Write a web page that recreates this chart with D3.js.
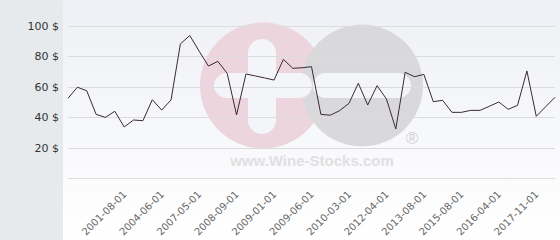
<!DOCTYPE html>
<html>
<head>
<meta charset="utf-8">
<script src="https://cdn.jsdelivr.net/npm/d3@7"></script>
<style>
  body { margin: 0; background: #fff; }
  svg { display: block; font-family: "DejaVu Sans", sans-serif; }
</style>
</head>
<body>
<div id="chart"></div>
<script>
// price per point (53 points)
var prices = [52.5, 59.8, 57.5, 42.0, 40.0, 44.0, 33.7, 38.3, 37.8, 51.6,
              44.8, 51.4, 88.2, 93.8, 83.5, 73.7, 76.8, 68.9, 41.6, 68.5,
              67.2, 65.9, 64.5, 78.1, 72.2, 72.6, 73.3, 42.0, 41.4, 44.4,
              49.2, 62.4, 48.1, 60.8, 52.1, 32.4, 69.6, 66.7, 68.2, 50.3,
              51.2, 43.3, 43.3, 44.6, 44.6, 47.3, 50.1, 45.3, 47.9, 70.5,
              40.7, 47.0, 53.2];
var tickLabels = ["2001-08-01", "2004-06-01", "2007-05-01", "2008-09-01",
                  "2009-01-01", "2009-06-01", "2010-03-01", "2012-04-01",
                  "2013-08-01", "2015-08-01", "2016-04-01", "2017-11-01"];
var tickIndex = [6, 10, 14, 18, 22, 26, 30, 34, 38, 42, 46, 50];
var yTicks = [0, 20, 40, 60, 80, 100];

var width = 560, height = 240;
var panelW = 63;
var plotLeft = 68, plotRight = 555, plotTop = 26, plotBottom = 178.3;

var svg = d3.select("#chart").append("svg")
    .attr("width", width)
    .attr("height", height);

var defs = svg.append("defs");
var grad = defs.append("linearGradient")
    .attr("id", "bg")
    .attr("x1", 0).attr("y1", 0).attr("x2", 0).attr("y2", 1);
grad.append("stop").attr("offset", "0%").attr("stop-color", "#eef0f5");
grad.append("stop").attr("offset", "100%").attr("stop-color", "#ffffff");

svg.append("rect")
    .attr("x", panelW).attr("y", 0)
    .attr("width", width - panelW).attr("height", height)
    .attr("fill", "url(#bg)");
svg.append("rect")
    .attr("x", 0).attr("y", 0)
    .attr("width", panelW).attr("height", height)
    .attr("fill", "#e6eaed");

var x = d3.scalePoint()
    .domain(d3.range(prices.length))
    .range([plotLeft, plotRight]);
var y = d3.scaleLinear()
    .domain([0, 100])
    .range([plotBottom, plotTop]);

// watermark logo
var wm = svg.append("g").attr("class", "watermark");
wm.append("circle").attr("cx", 263).attr("cy", 85.5).attr("r", 63).attr("fill", "#ecd5dd");
wm.append("circle").attr("cx", 362).attr("cy", 85.5).attr("r", 61).attr("fill", "#d9d9dc");
wm.append("rect").attr("x", 248).attr("y", 39).attr("width", 28).attr("height", 95)
    .attr("rx", 14).attr("fill", "#f4f5f9");
wm.append("rect").attr("x", 214).attr("y", 73).attr("width", 98).attr("height", 25)
    .attr("rx", 12.5).attr("fill", "#f4f5f9");
wm.append("rect").attr("x", 313).attr("y", 73).attr("width", 98).attr("height", 25)
    .attr("rx", 12.5).attr("fill", "#f4f5f9");
wm.append("text")
    .attr("x", 412).attr("y", 144)
    .attr("text-anchor", "middle")
    .attr("font-family", "Liberation Sans, Arial, sans-serif")
    .attr("font-size", 17)
    .attr("fill", "#d2d2d4")
    .text("®");
wm.append("text")
    .attr("x", 312).attr("y", 166)
    .attr("text-anchor", "middle")
    .attr("font-family", "Liberation Sans, Arial, sans-serif")
    .attr("font-weight", "bold")
    .attr("font-size", 15)
    .attr("fill", "#e0e0e2")
    .text("www.Wine-Stocks.com");

// grid
svg.append("g")
    .selectAll("line")
    .data(yTicks)
    .enter()
    .append("line")
    .attr("x1", plotLeft).attr("x2", plotRight)
    .attr("y1", function(d) { return Math.round(y(d)) + 0.5; })
    .attr("y2", function(d) { return Math.round(y(d)) + 0.5; })
    .attr("stroke", "#dcdcdc")
    .attr("stroke-width", 1);

// y labels
svg.append("g")
    .selectAll("text")
    .data(yTicks.filter(function(d) { return d > 0; }))
    .enter()
    .append("text")
    .attr("x", 59)
    .attr("y", function(d) { return y(d); })
    .attr("dy", "0.35em")
    .attr("text-anchor", "end")
    .attr("font-size", 11)
    .attr("fill", "#333")
    .text(function(d) { return d + " $"; });

// x labels
svg.append("g")
    .selectAll("text")
    .data(tickIndex)
    .enter()
    .append("text")
    .attr("transform", function(d) {
        return "translate(" + (x(d) + 3) + ",195) rotate(-45)";
    })
    .attr("text-anchor", "end")
    .attr("font-size", 10)
    .attr("fill", "#666")
    .text(function(d, i) { return tickLabels[i]; });

// price line
var line = d3.line()
    .x(function(d, i) { return x(i); })
    .y(function(d) { return y(d); });

svg.append("path")
    .datum(prices)
    .attr("d", line)
    .attr("fill", "none")
    .attr("stroke", "#3a2a33")
    .attr("stroke-width", 1);
</script>
</body>
</html>
